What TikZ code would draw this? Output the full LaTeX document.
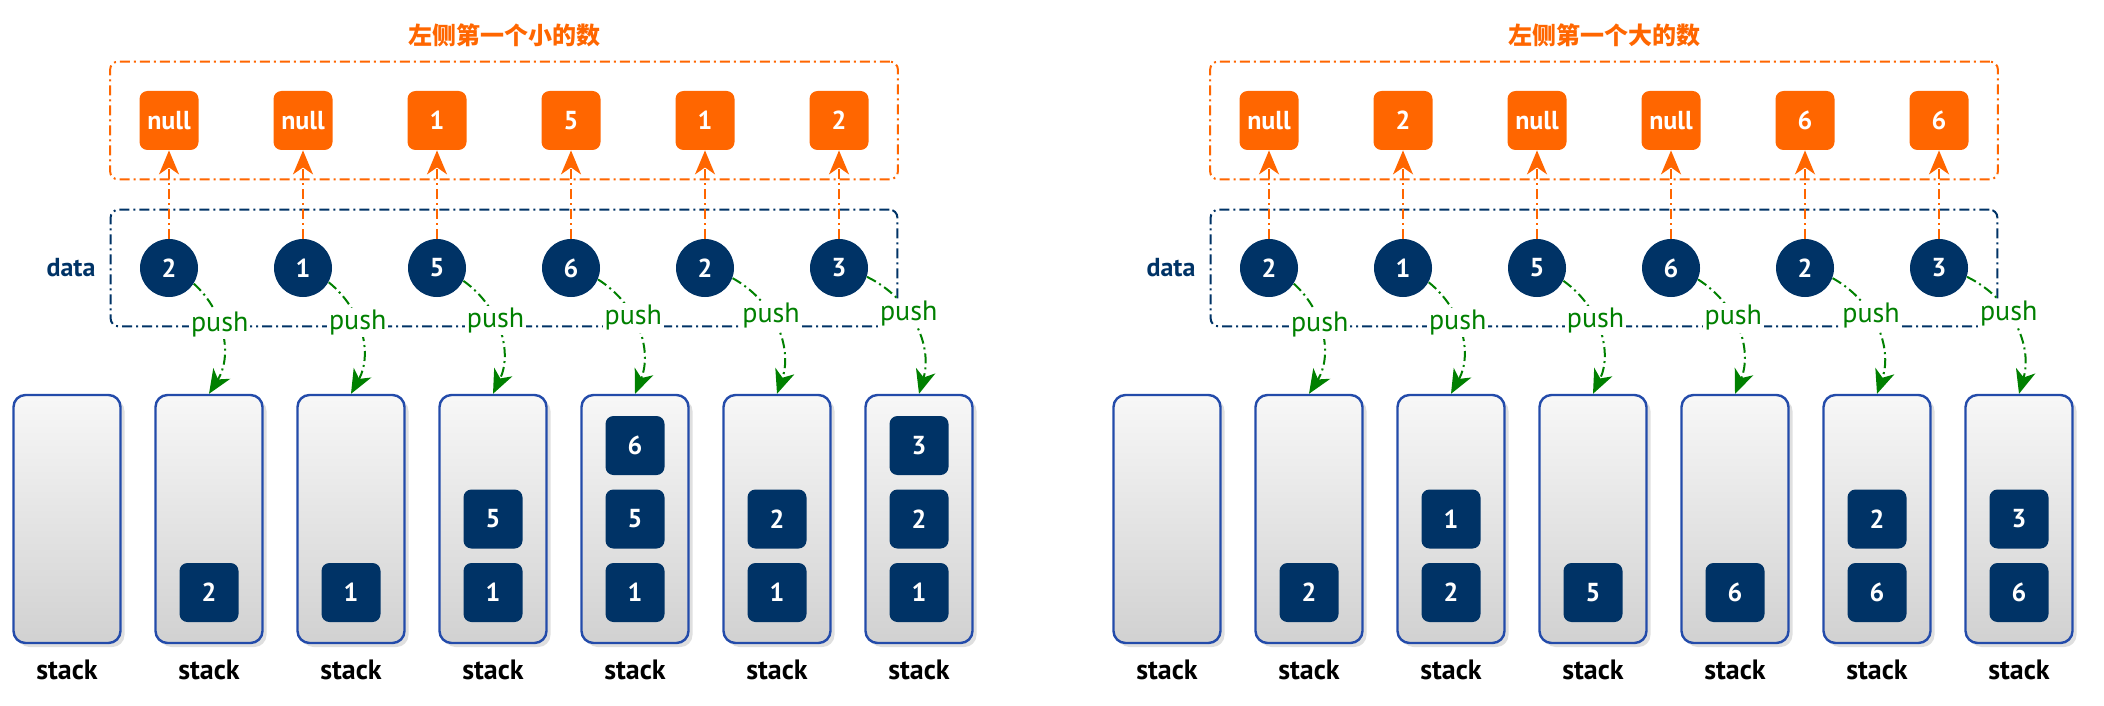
\documentclass[tikz,border=0pt]{standalone}
\usepackage{fontspec}
\setmainfont{PT Sans}
\newfontfamily\cjkfont{Noto Sans CJK SC}
\usetikzlibrary{arrows.meta, positioning, fit, shadows}
\definecolor{resorange}{RGB}{255,102,0}
\definecolor{datanavy}{RGB}{0,51,102}
\definecolor{pushgreen}{RGB}{0,128,0}
\definecolor{stackblue}{RGB}{35,75,170}
\tikzset{
>={Stealth[length=12pt, width=10pt, inset=3.5pt]}, % big pointed heads
node distance=67pt, % distance between two data values. Change if necessary.
dashdot/.style={line width=1pt, dash pattern=on 5pt off 2pt on 1pt off 2pt}, % the dash-dot lines
datum/.style={circle, fill=datanavy, text=white, font=\fontsize{13}{15}\selectfont\bfseries, minimum size=29pt, inner sep=0pt}, % one value of the data
answer/.style={rectangle, rounded corners=4pt, fill=resorange, text=white, font=\fontsize{13}{15}\selectfont\bfseries, minimum size=29.5pt, inner sep=0pt}, % the answer for one value
item/.style={answer, fill=datanavy}, % a value kept in the stack
stackbox/.style={rectangle, rounded corners=6pt, draw=stackblue, line width=1.2pt, top color=black!3, bottom color=black!18, minimum width=53.5pt, minimum height=124pt, drop shadow={opacity=0.25, shadow xshift=2pt, shadow yshift=-2pt}}, % one state of the stack
stacklabel/.style={font=\fontsize{14}{16}\selectfont\bfseries}, % text under a stack
datalabel/.style={text=datanavy, font=\fontsize{13}{15}\selectfont\bfseries}, % text left of the data
title/.style={text=resorange, font=\fontsize{12}{14}\selectfont\cjkfont\bfseries}, % heading above the answers
resframe/.style={draw=resorange, dashdot, rounded corners=4pt, inner sep=14.5pt}, % frame round the answers
dataframe/.style={draw=datanavy, dashdot, rounded corners=4pt, inner sep=14.5pt}, % frame round the data
}
\tikzset{
  resline/.style={->, draw=resorange, dashdot},
  pushline/.style={->, draw=pushgreen, dashdot, bend left=40},
  pushtext/.style={fill=white, text=pushgreen, font=\fontsize{14}{16}\selectfont, inner sep=1pt, pos=0.4}
}

\begin{document}
\begin{tikzpicture}
      \useasboundingbox (0,0) rectangle (1052pt,-353pt);
      % left half
      \node[datum] (dat1) at (84.5pt,-134pt) {2};
      \node[datum, right of=dat1] (dat2) {1};
      \node[datum, right of=dat2] (dat3) {5};
      \node[datum, right of=dat3] (dat4) {6};
      \node[datum, right of=dat4] (dat5) {2};
      \node[datum, right of=dat5] (dat6) {3};
      \node[answer, above of=dat1, yshift=6.75pt] (res1) {null};
      \node[answer, above of=dat2, yshift=6.75pt] (res2) {null};
      \node[answer, above of=dat3, yshift=6.75pt] (res3) {1};
      \node[answer, above of=dat4, yshift=6.75pt] (res4) {5};
      \node[answer, above of=dat5, yshift=6.75pt] (res5) {1};
      \node[answer, above of=dat6, yshift=6.75pt] (res6) {2};
      \node[datalabel, left of=dat1, xshift=18pt] (datlbl) {data};
      \node[resframe, fit=(res1) (res6)] (resbox) {};
      \node[dataframe, fit=(dat1) (dat6)] (datbox) {};
      \node[title, yshift=12.5pt] (restitle) at (resbox.north) {左侧第一个小的数};

      \node[stackbox] (stk0) at (33.5pt,-259.5pt) {};
      \node[stackbox, right of=stk0, xshift=4pt] (stk1) {};
      \node[stackbox, right of=stk1, xshift=4pt] (stk2) {};
      \node[stackbox, right of=stk2, xshift=4pt] (stk3) {};
      \node[stackbox, right of=stk3, xshift=4pt] (stk4) {};
      \node[stackbox, right of=stk4, xshift=4pt] (stk5) {};
      \node[stackbox, right of=stk5, xshift=4pt] (stk6) {};
      \node[stacklabel, below of=stk0, yshift=-8.5pt] (lbl0) {stack};
      \node[stacklabel, below of=stk1, yshift=-8.5pt] (lbl1) {stack};
      \node[stacklabel, below of=stk2, yshift=-8.5pt] (lbl2) {stack};
      \node[stacklabel, below of=stk3, yshift=-8.5pt] (lbl3) {stack};
      \node[stacklabel, below of=stk4, yshift=-8.5pt] (lbl4) {stack};
      \node[stacklabel, below of=stk5, yshift=-8.5pt] (lbl5) {stack};
      \node[stacklabel, below of=stk6, yshift=-8.5pt] (lbl6) {stack};
      \node[item, yshift=-36.75pt] (stk1a) at (stk1) {2};
      \node[item, yshift=-36.75pt] (stk2a) at (stk2) {1};
      \node[item, yshift=-36.75pt] (stk3a) at (stk3) {1};
      \node[item] (stk3b) at (stk3) {5};
      \node[item, yshift=-36.75pt] (stk4a) at (stk4) {1};
      \node[item] (stk4b) at (stk4) {5};
      \node[item, yshift=36.75pt] (stk4c) at (stk4) {6};
      \node[item, yshift=-36.75pt] (stk5a) at (stk5) {1};
      \node[item] (stk5b) at (stk5) {2};
      \node[item, yshift=-36.75pt] (stk6a) at (stk6) {1};
      \node[item] (stk6b) at (stk6) {2};
      \node[item, yshift=36.75pt] (stk6c) at (stk6) {3};

      % right half
      \node[datum] (Dat1) at (634.5pt,-134pt) {2};
      \node[datum, right of=Dat1] (Dat2) {1};
      \node[datum, right of=Dat2] (Dat3) {5};
      \node[datum, right of=Dat3] (Dat4) {6};
      \node[datum, right of=Dat4] (Dat5) {2};
      \node[datum, right of=Dat5] (Dat6) {3};
      \node[answer, above of=Dat1, yshift=6.75pt] (Res1) {null};
      \node[answer, above of=Dat2, yshift=6.75pt] (Res2) {2};
      \node[answer, above of=Dat3, yshift=6.75pt] (Res3) {null};
      \node[answer, above of=Dat4, yshift=6.75pt] (Res4) {null};
      \node[answer, above of=Dat5, yshift=6.75pt] (Res5) {6};
      \node[answer, above of=Dat6, yshift=6.75pt] (Res6) {6};
      \node[datalabel, left of=Dat1, xshift=18pt] (Datlbl) {data};
      \node[resframe, fit=(Res1) (Res6)] (Resbox) {};
      \node[dataframe, fit=(Dat1) (Dat6)] (Datbox) {};
      \node[title, yshift=12.5pt] (Restitle) at (Resbox.north) {左侧第一个大的数};

      \node[stackbox] (Stk0) at (583.5pt,-259.5pt) {};
      \node[stackbox, right of=Stk0, xshift=4pt] (Stk1) {};
      \node[stackbox, right of=Stk1, xshift=4pt] (Stk2) {};
      \node[stackbox, right of=Stk2, xshift=4pt] (Stk3) {};
      \node[stackbox, right of=Stk3, xshift=4pt] (Stk4) {};
      \node[stackbox, right of=Stk4, xshift=4pt] (Stk5) {};
      \node[stackbox, right of=Stk5, xshift=4pt] (Stk6) {};
      \node[stacklabel, below of=Stk0, yshift=-8.5pt] (Lbl0) {stack};
      \node[stacklabel, below of=Stk1, yshift=-8.5pt] (Lbl1) {stack};
      \node[stacklabel, below of=Stk2, yshift=-8.5pt] (Lbl2) {stack};
      \node[stacklabel, below of=Stk3, yshift=-8.5pt] (Lbl3) {stack};
      \node[stacklabel, below of=Stk4, yshift=-8.5pt] (Lbl4) {stack};
      \node[stacklabel, below of=Stk5, yshift=-8.5pt] (Lbl5) {stack};
      \node[stacklabel, below of=Stk6, yshift=-8.5pt] (Lbl6) {stack};
      \node[item, yshift=-36.75pt] (Stk1a) at (Stk1) {2};
      \node[item, yshift=-36.75pt] (Stk2a) at (Stk2) {2};
      \node[item] (Stk2b) at (Stk2) {1};
      \node[item, yshift=-36.75pt] (Stk3a) at (Stk3) {5};
      \node[item, yshift=-36.75pt] (Stk4a) at (Stk4) {6};
      \node[item, yshift=-36.75pt] (Stk5a) at (Stk5) {6};
      \node[item] (Stk5b) at (Stk5) {2};
      \node[item, yshift=-36.75pt] (Stk6a) at (Stk6) {6};
      \node[item] (Stk6b) at (Stk6) {3};

      \draw (dat1) edge[resline] (res1)
      (dat2) edge[resline] (res2)
      (dat3) edge[resline] (res3)
      (dat4) edge[resline] (res4)
      (dat5) edge[resline] (res5)
      (dat6) edge[resline] (res6)
      (dat1) edge[pushline] node[pushtext]{push} (stk1.north)
      (dat2) edge[pushline] node[pushtext]{push} (stk2.north)
      (dat3) edge[pushline] node[pushtext]{push} (stk3.north)
      (dat4) edge[pushline] node[pushtext]{push} (stk4.north)
      (dat5) edge[pushline] node[pushtext]{push} (stk5.north)
      (dat6) edge[pushline] node[pushtext]{push} (stk6.north);

      \draw (Dat1) edge[resline] (Res1)
      (Dat2) edge[resline] (Res2)
      (Dat3) edge[resline] (Res3)
      (Dat4) edge[resline] (Res4)
      (Dat5) edge[resline] (Res5)
      (Dat6) edge[resline] (Res6)
      (Dat1) edge[pushline] node[pushtext]{push} (Stk1.north)
      (Dat2) edge[pushline] node[pushtext]{push} (Stk2.north)
      (Dat3) edge[pushline] node[pushtext]{push} (Stk3.north)
      (Dat4) edge[pushline] node[pushtext]{push} (Stk4.north)
      (Dat5) edge[pushline] node[pushtext]{push} (Stk5.north)
      (Dat6) edge[pushline] node[pushtext]{push} (Stk6.north);
    \end{tikzpicture}
\end{document}
